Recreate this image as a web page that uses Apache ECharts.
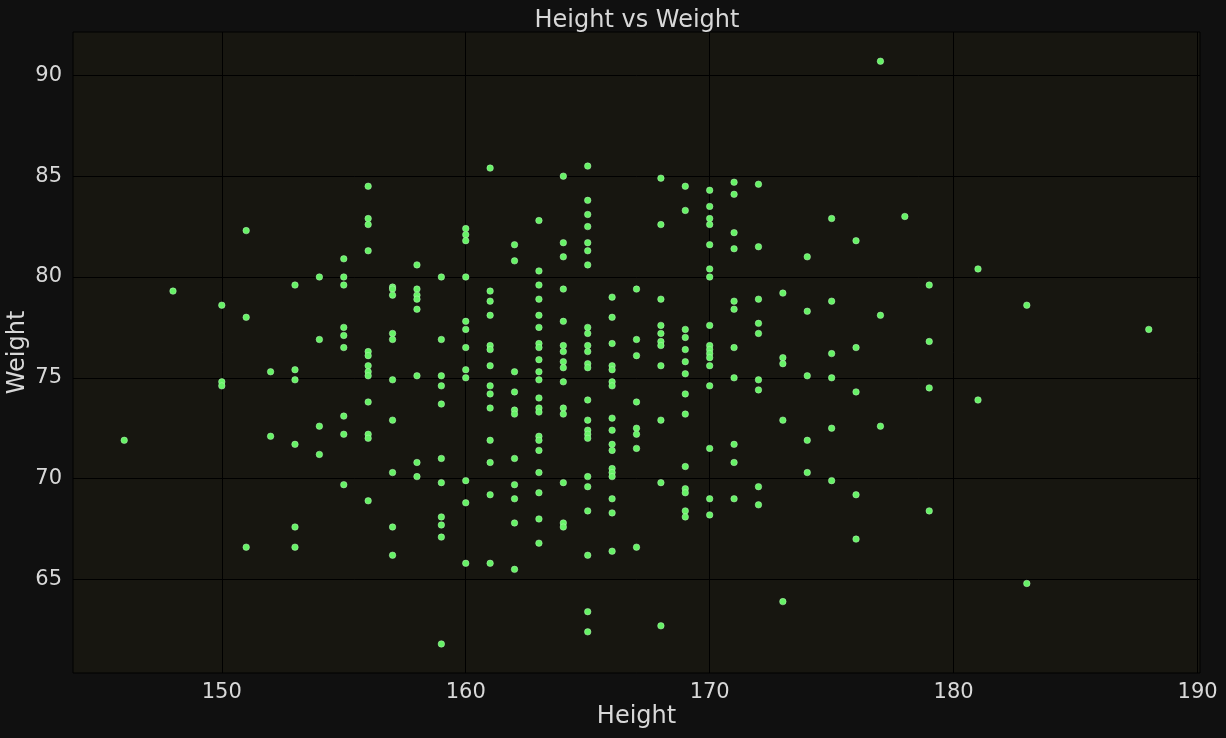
<!DOCTYPE html>
<html>
<head>
<meta charset="utf-8">
<script src="https://cdn.jsdelivr.net/npm/echarts@6/dist/echarts.min.js"></script>
<style>
  html, body { margin: 0; padding: 0; background: #101010; }
  #chart { width: 1226px; height: 738px; }
</style>
</head>
<body>
<div id="chart"></div>
<script>
// heights (x) and the weights read for each height (y)
const heights = [146, 148, 150, 151, 152, 153, 154, 155, 156, 157, 158, 159, 160,
  161, 162, 163, 164, 165, 166, 167, 168, 169, 170, 171, 172, 173, 174, 175, 176,
  177, 178, 179, 181, 183, 188];
const weightsAtHeight = [
  [71.9],
  [79.3],
  [78.6, 74.8, 74.6],
  [82.3, 78.0, 66.6],
  [75.3, 72.1],
  [79.6, 75.4, 74.9, 71.7, 67.6, 66.6],
  [80.0, 76.9, 72.6, 71.2],
  [80.9, 80.0, 79.6, 77.5, 77.1, 76.5, 73.1, 72.2, 69.7],
  [84.5, 82.9, 82.6, 81.3, 76.3, 76.1, 75.6, 75.3, 75.1, 73.8, 72.2, 72.0, 68.9],
  [79.5, 79.4, 79.1, 77.2, 76.9, 74.9, 72.9, 70.3, 67.6, 66.2],
  [80.6, 79.4, 79.1, 78.9, 78.4, 75.1, 70.8, 70.1],
  [80.0, 76.9, 75.1, 74.6, 73.7, 71.0, 69.8, 68.1, 67.7, 67.1, 61.8],
  [82.4, 82.1, 81.8, 80.0, 77.8, 77.4, 76.5, 75.4, 75.0, 69.9, 68.8, 65.8],
  [85.4, 79.3, 78.8, 78.1, 76.6, 76.4, 75.6, 74.6, 74.2, 73.5, 71.9, 70.8, 69.2, 65.8],
  [81.6, 80.8, 75.3, 74.3, 73.4, 73.2, 71.0, 69.7, 69.0, 67.8, 65.5],
  [82.8, 80.3, 79.6, 78.9, 78.1, 77.5, 76.7, 76.5, 75.9, 75.3, 74.9, 74.0, 73.5, 73.3,
    72.1, 71.9, 71.4, 70.3, 69.3, 68.0, 66.8],
  [85.0, 81.7, 81.0, 79.4, 77.8, 76.6, 76.3, 75.8, 75.5, 74.8, 73.5, 73.2, 69.8, 67.8, 67.6],
  [85.5, 83.8, 83.1, 82.5, 81.7, 81.3, 80.6, 77.5, 77.2, 76.6, 76.3, 75.7, 75.5, 73.9,
    72.9, 72.4, 72.2, 72.0, 70.1, 69.6, 68.4, 66.2, 63.4, 62.4],
  [79.0, 78.0, 76.7, 75.6, 75.4, 74.8, 74.6, 73.0, 72.4, 71.7, 71.4, 70.5, 70.3, 70.1,
    69.0, 68.3, 66.4],
  [79.4, 76.9, 76.1, 73.8, 72.5, 72.2, 71.5, 66.6],
  [84.9, 82.6, 78.9, 77.6, 77.2, 76.8, 76.6, 75.6, 72.9, 69.8, 62.7],
  [84.5, 83.3, 77.4, 77.0, 76.4, 75.8, 75.2, 74.2, 73.2, 70.6, 69.5, 69.3, 68.4, 68.1],
  [84.3, 83.5, 82.9, 82.6, 81.6, 80.4, 80.0, 77.6, 76.6, 76.4, 76.2, 76.0, 75.6, 74.6,
    71.5, 69.0, 68.2],
  [84.7, 84.1, 82.2, 81.4, 78.8, 78.4, 76.5, 75.0, 71.7, 70.8, 69.0],
  [84.6, 81.5, 78.9, 77.7, 77.2, 74.9, 74.4, 69.6, 68.7],
  [79.2, 76.0, 75.7, 72.9, 63.9],
  [81.0, 78.3, 75.1, 71.9, 70.3],
  [82.9, 78.8, 76.2, 75.0, 72.5, 69.9],
  [81.8, 76.5, 74.3, 69.2, 67.0],
  [90.7, 78.1, 72.6],
  [83.0],
  [79.6, 76.8, 74.5, 68.4],
  [80.4, 73.9],
  [78.6, 64.8],
  [77.4]
];
const xTicks = [150, 160, 170, 180, 190];
const yTicks = [65, 70, 75, 80, 85, 90];

const points = [];
heights.forEach((h, i) => {
  weightsAtHeight[i].forEach(w => points.push([h, w]));
});

const textColor = "#d8d8d8";
const font = "DejaVu Sans";

const chart = echarts.init(document.getElementById("chart"));
chart.setOption({
  backgroundColor: "#101010",
  animation: false,
  title: {
    text: "Height vs Weight",
    left: 632,
    textAlign: "center",
    top: 4,
    textStyle: { color: textColor, fontFamily: font, fontSize: 24, fontWeight: "normal" },
  },
  grid: {
    left: 73,
    right: 26,
    top: 32,
    bottom: 65,
    containLabel: false,
    outerBoundsMode: "none",
    show: true,
    backgroundColor: "#171610",
    borderColor: "#000000",
    borderWidth: 1,
  },
  xAxis: {
    type: "value",
    min: 143.9,
    max: 190.1,
    name: "Height",
    nameLocation: "middle",
    nameGap: 32,
    nameMoveOverlap: false,
    nameTextStyle: { color: textColor, fontFamily: font, fontSize: 24 },
    axisLine: { show: false },
    axisTick: { show: false, customValues: xTicks },
    axisLabel: {
      customValues: xTicks,
      color: textColor,
      fontFamily: font,
      fontSize: 21,
      margin: 9,
    },
    splitLine: { show: true, lineStyle: { color: "#000000", width: 1 } },
  },
  yAxis: {
    type: "value",
    min: 60.36,
    max: 92.15,
    name: "Weight",
    nameLocation: "middle",
    nameGap: 43,
    nameMoveOverlap: false,
    nameTextStyle: { color: textColor, fontFamily: font, fontSize: 24 },
    axisLine: { show: false },
    axisTick: { show: false, customValues: yTicks },
    axisLabel: {
      customValues: yTicks,
      color: textColor,
      fontFamily: font,
      fontSize: 21,
      margin: 11,
    },
    splitLine: { show: true, lineStyle: { color: "#000000", width: 1 } },
  },
  series: [
    {
      type: "scatter",
      data: points,
      symbolSize: 6.5,
      itemStyle: {
        color: "#66f266",
        borderColor: "#b8f5b8",
        borderWidth: 0.5,
        opacity: 1,
      },
    },
  ],
});
</script>
</body>
</html>
